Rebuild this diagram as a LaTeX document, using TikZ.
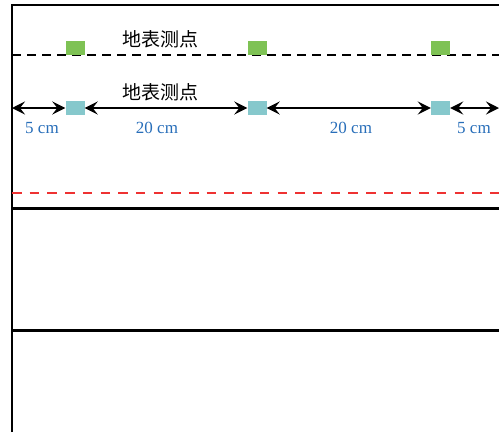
\documentclass[tikz,border=0pt]{standalone}
\usepackage{fontspec}
\setmainfont{Liberation Serif}
\newfontfamily\cjk{Noto Sans CJK SC}
\usetikzlibrary{arrows.meta}
\definecolor{gsq}{RGB}{126,194,84}
\definecolor{csq}{RGB}{134,200,204}
\definecolor{lblue}{RGB}{40,110,185}
\definecolor{rdash}{RGB}{238,50,50}
\begin{document}
\begin{tikzpicture}[x=1pt,y=-1pt,
  sq/.style={inner sep=0pt,minimum width=19pt,minimum height=14pt,draw=none},
  gsquare/.style={sq,fill=gsq},
  csquare/.style={sq,fill=csq},
  dim/.style={line width=2pt,{Stealth[length=13pt,width=13pt,inset=5pt]}-{Stealth[length=13pt,width=13pt,inset=5pt]}},
  lab/.style={text=lblue,font=\fontsize{17}{19}\selectfont,inner sep=0pt},
  title/.style={font=\cjk\fontsize{19}{21}\selectfont,inner sep=0pt},
  thick line/.style={line width=3pt},
]
\useasboundingbox (0,0) rectangle (499,432);
% frame
\draw[line width=2.5pt] (12,432) -- (12,5) -- (499,5);
% black dashed line
\draw[line width=2.2pt,dash pattern=on 9pt off 6pt] (12,55) -- (499,55);
% green squares
\node[gsquare] (g1) at (75,48) {};
\node[gsquare] (g2) at (257,48) {};
\node[gsquare] (g3) at (440.5,48) {};
\node[title] (t1) at (160.5,39) {地表测点};
% cyan squares and dimensions
\node[csquare] (c1) at (75,108) {};
\node[csquare] (c2) at (257,108) {};
\node[csquare] (c3) at (440.5,108) {};
\node[title] (t2) at (160.5,92) {地表测点};
\coordinate (L) at (12,108);
\coordinate (R) at (499,108);
\draw[dim] (L) -- (c1.west);
\draw[dim] (c1.east) -- (c2.west);
\draw[dim] (c2.east) -- (c3.west);
\draw[dim] (c3.east) -- (R);
\node[lab] (d1) at (42,128) {5 cm};
\node[lab] (d2) at (157,128) {20 cm};
\node[lab] (d3) at (351,128) {20 cm};
\node[lab] (d4) at (474,128) {5 cm};
% red dashed line
\draw[rdash,line width=2.2pt,dash pattern=on 9.5pt off 8.2pt] (12,193) -- (499,193);
% layer boundaries
\draw[thick line] (12,208) -- (499,208);
\draw[thick line] (12,330) -- (499,330);
\end{tikzpicture}
\end{document}
